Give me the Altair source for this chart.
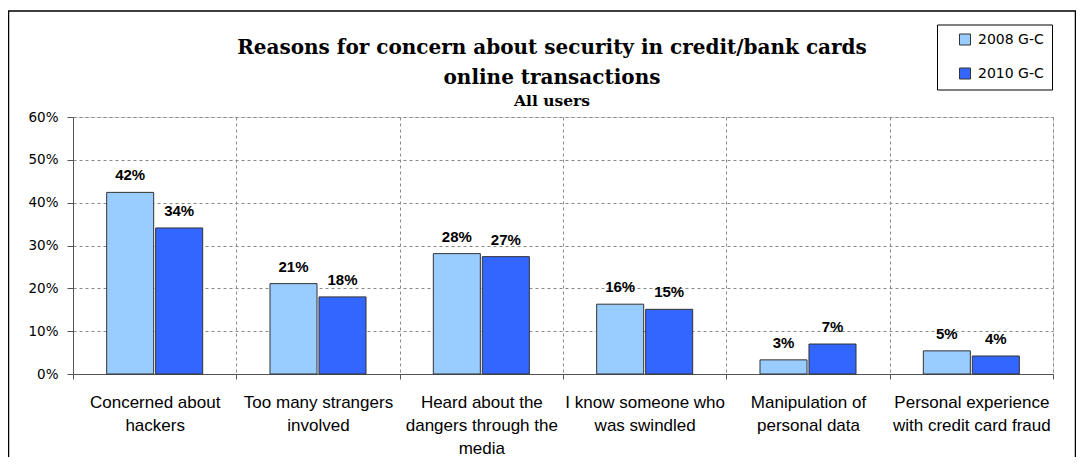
import altair as alt
import pandas as pd

categories = [
    "Concerned about\nhackers",
    "Too many strangers\ninvolved",
    "Heard about the\ndangers through the\nmedia",
    "I know someone who\nwas swindled",
    "Manipulation of\npersonal data",
    "Personal experience\nwith credit card fraud",
]
series = ["2008 G-C", "2010 G-C"]
values_2008 = [42.4, 21.1, 28.1, 16.3, 3.3, 5.4]
values_2010 = [34.1, 18.0, 27.4, 15.1, 7.0, 4.2]
y_ticks = [0, 10, 20, 30, 40, 50, 60]
colors = ["#99CCFF", "#3366FF"]

rows = []
for c, a, b in zip(categories, values_2008, values_2010):
    rows.append({"category": c, "series": series[0], "value": a})
    rows.append({"category": c, "series": series[1], "value": b})
df = pd.DataFrame(rows)

x_enc = alt.X(
    "category:N",
    sort=categories,
    scale=alt.Scale(paddingInner=0, paddingOuter=0),
    axis=alt.Axis(
        title=None,
        labelAngle=0,
        labelExpr="split(datum.label, '\\n')",
        labelFont="Liberation Sans",
        labelFontSize=17,
        labelLineHeight=23,
        labelColor="black",
        labelPadding=15,
        labelLimit=200,
        tickBand="extent",
        tickSize=5,
        tickColor="#555",
        domainColor="#555",
        grid=True,
        gridDash=[3, 3],
        gridColor="#888",
    ),
)
xoff = alt.XOffset(
    "series:N", sort=series, scale=alt.Scale(paddingInner=0.04, paddingOuter=0.687)
)
y_enc = alt.Y(
    "value:Q",
    scale=alt.Scale(domain=[0, 60]),
    axis=alt.Axis(
        title=None,
        values=y_ticks,
        labelExpr="datum.value + '%'",
        labelFont="DejaVu Sans",
        labelFontSize=13.5,
        labelColor="black",
        labelPadding=9,
        tickSize=6,
        tickColor="#555",
        domainColor="#555",
        grid=True,
        gridDash=[3, 3],
        gridColor="#888",
    ),
)

frame = alt.Chart(pd.DataFrame({"d": [0]})).mark_rect(
    fill="transparent", stroke="black", strokeWidth=1.5
).encode(
    x=alt.value(-64.5), x2=alt.value(1002.5), y=alt.value(-106), y2=alt.value(420)
)

bars = alt.Chart(df).mark_bar(stroke="#333", strokeWidth=1).encode(
    x=x_enc,
    xOffset=xoff,
    y=y_enc,
    color=alt.Color(
        "series:N",
        sort=series,
        scale=alt.Scale(domain=series, range=colors),
        legend=alt.Legend(
            title=None,
            orient="none",
            legendX=864,
            legendY=-92.5,
            strokeColor="black",
            fillColor="white",
            padding=8,
            symbolOffset=13,
            symbolType="square",
            symbolSize=121,
            symbolStrokeColor="#333",
            symbolStrokeWidth=1,
            labelFont="DejaVu Sans",
            labelFontSize=14,
            labelColor="black",
            labelOffset=6,
            labelExpr="datum.label + '\u00a0\u00a0'",
            rowPadding=18,
        ),
    ),
)

labels = alt.Chart(df).transform_calculate(
    label="format(datum.value, '.0f') + '%'"
).mark_text(
    dy=-12, baseline="alphabetic", fontWeight="bold", fontSize=15,
    font="Liberation Sans", color="black"
).encode(
    x=alt.X("category:N", sort=categories),
    xOffset=alt.XOffset("series:N", sort=series),
    y="value:Q",
    text="label:N",
)

chart = alt.layer(frame, bars, labels).properties(
    width=980,
    height=257,
    padding={"left": 65, "top": 109, "right": 23, "bottom": 83},
    autosize=alt.AutoSizeParams(type="none"),
    title=alt.Title(
        text=["Reasons for concern about security in credit/bank cards", "online transactions"],
        subtitle="All users",
        font="DejaVu Serif",
        fontSize=20,
        fontWeight="bold",
        color="black",
        lineHeight=30,
        subtitleFont="DejaVu Serif",
        subtitleFontSize=15.5,
        subtitleFontWeight="bold",
        subtitleColor="black",
        subtitlePadding=6,
        anchor="middle",
        frame="group",
        offset=-99,
        dx=-11,
    ),
).configure_view(stroke=None).configure(background="white")

chart.save("out.html", embed_options={"renderer": "svg", "actions": False})
